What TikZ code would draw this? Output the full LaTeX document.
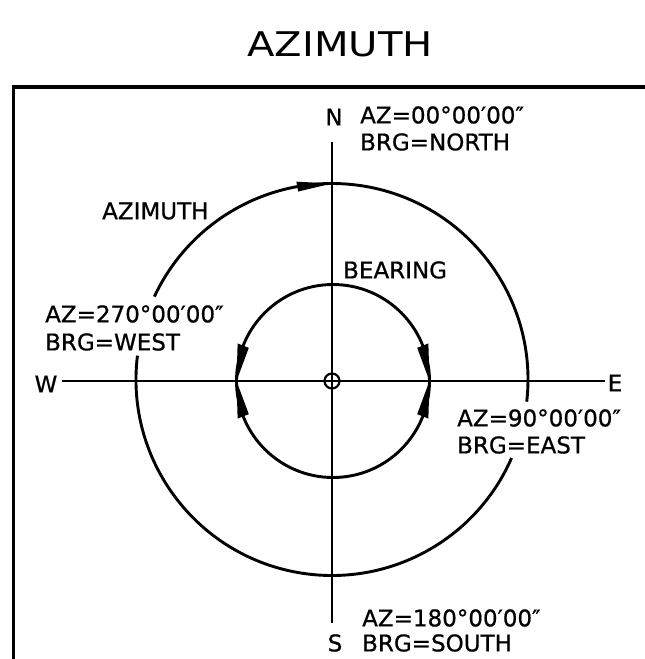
\documentclass[tikz,border=0pt]{standalone}
\usepackage{fontspec}
\setmainfont{DejaVu Sans}
\newfontfamily\titlefont[FakeStretch=1.18]{DejaVu Sans}
\newfontfamily\lblfont[FakeBold=0.8]{DejaVu Sans}
\begin{document}
\begin{tikzpicture}[x=1pt,y=1pt,
  lbl/.style={inner sep=0pt,font=\lblfont\fontsize{23}{27}\selectfont},
  lblw/.style={lbl,anchor=west},
  circ/.style={line width=2.9pt},
  axis/.style={line width=2.4pt},
  frame/.style={line width=3.2pt}]
\useasboundingbox (-332,-278) rectangle (313,381);
% title
\node[inner sep=0pt,font=\titlefont\fontsize{34}{40}\selectfont] (title) at (8,337) {AZIMUTH};
% frame
\coordinate (fb) at (-318.5,-278);
\coordinate (fc) at (-318.5,294);
\coordinate (fr) at (313,294);
\draw[frame] (fb) -- (fc) -- (fr);
% axes
\coordinate (c) at (0,0);
\node[lbl] (N) at (2,264) {N};
\node[lbl] (S) at (3,-262) {S};
\node[lbl] (W) at (-286,-3) {W};
\node[lbl] (E) at (283,-2) {E};
\coordinate (nt) at (0,239);
\coordinate (sb) at (0,-242);
\coordinate (wl) at (-270,0);
\coordinate (er) at (273,0);
\draw[axis] (nt) -- (sb);
\draw[axis] (wl) -- (er);
\draw[line width=2.2pt] (c) circle[radius=7.5];
% outer circle (azimuth)
\begin{scope}[shift={(0,1.5)}]
  \draw[circ] (-6.5:196) arc[start angle=-6.5,end angle=155,radius=196];
  \draw[circ] (173:196) arc[start angle=173,end angle=336.4,radius=196];
  \fill (90:196) -- (100.2:201) -- (100.2:191) -- cycle;
\end{scope}
% inner circle (bearing)
\begin{scope}[shift={(1,0)}]
  \draw[circ] (0,0) circle[radius=96.5];
  \fill (180:96.5) -- (158.5:102.5) -- (158.5:90.5) -- cycle;
  \fill (180:96.5) -- (201.5:102.5) -- (201.5:90.5) -- cycle;
  \fill (0:96.5) -- (21.5:102.5) -- (21.5:90.5) -- cycle;
  \fill (0:96.5) -- (-21.5:102.5) -- (-21.5:90.5) -- cycle;
\end{scope}
% labels
\node[lblw] (azn) at (28,266) {AZ=00°00′00″};
\node[lblw] (brgn) at (28,239) {BRG=NORTH};
\node[lblw] (azlabel) at (-230,170) {AZIMUTH};
\node[lblw] (brglabel) at (11,111) {BEARING};
\node[lblw] (azw) at (-287,67) {AZ=270°00′00″};
\node[lblw] (brgw) at (-287,39) {BRG=WEST};
\node[lblw] (aze) at (125,-37) {AZ=90°00′00″};
\node[lblw] (brge) at (125,-64) {BRG=EAST};
\node[lblw] (azs) at (30,-237) {AZ=180°00′00″};
\node[lblw] (brgs) at (30,-262) {BRG=SOUTH};
\end{tikzpicture}
\end{document}
